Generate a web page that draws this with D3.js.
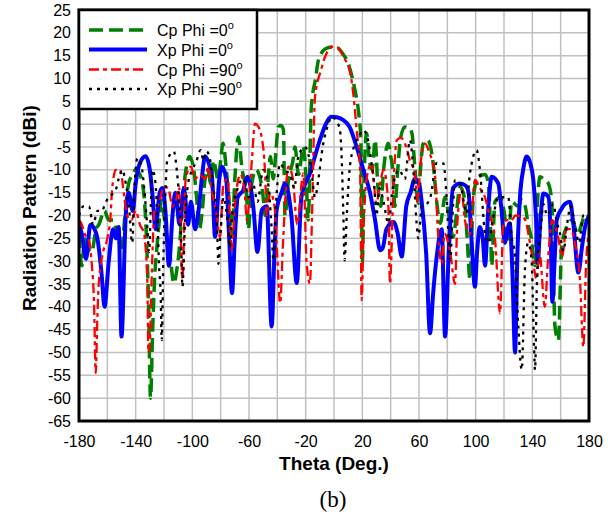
<!DOCTYPE html>
<meta charset="utf-8">
<head>
    <title>Radiation Pattern</title>
    <script type="text/javascript" src="https://cdn.jsdelivr.net/npm/d3@7"></script>
    <style>
        body { margin: 0; background: white; }
        text { font-family: "Liberation Sans", Arial, sans-serif; }
    </style>
</head>
<body>
<script>
    // data: [theta (deg), gain (dBi)]
    const cpPhi0 = [[-180,-24],[-178,-31],[-176,-25],[-174,-27],[-171,-28],[-168,-23],[-166,-22],[-162,-19],[-159,-21],[-156,-21],[-153,-24],[-150,-27],[-147,-18],[-145,-13],[-142,-11],[-140,-10],[-137,-11],[-134,-16],[-132.5,-24],[-131,-38],[-129.5,-60],[-128,-45],[-126.5,-33],[-125,-27],[-123,-20],[-122,-16.6],[-120,-20],[-119,-22.5],[-116,-28],[-113,-34.8],[-111,-32],[-109.4,-28],[-106,-13.7],[-104,-9],[-102,-7.1],[-99,-10],[-97,-16],[-95,-23],[-93,-19],[-91,-12],[-89,-10],[-87,-13],[-85,-8],[-82,-12],[-80,-8],[-78.4,-4.2],[-76,-10],[-74,-17],[-72,-24.7],[-70,-12],[-67.5,-2.8],[-65,-9.6],[-61.6,-16],[-60.5,-23],[-58,-13],[-55,-10],[-52,-12],[-50,-16],[-48.7,-20],[-46,-10],[-45,-7.1],[-42.8,-12],[-41,-6],[-39.3,-0.6],[-37.5,-0.3],[-35.7,-1.2],[-34.6,-20],[-32,-12],[-29,-8],[-27.6,-5],[-25,-11],[-21.7,-5],[-19.5,-13],[-18.2,-21],[-16,3.8],[-13,10],[-11,14],[-6,16.5],[-1.7,16.9],[2,16.8],[6,15.5],[10,13.3],[14.8,7.4],[17.2,3],[19,-4],[20,-30.5],[21,-15],[23,-2],[25,-8],[27,-10],[29,-3.5],[31,-13.7],[33,-18],[35,-10],[38.3,-4.2],[40,-7],[41.5,-10],[43,-18],[45,-10],[47,-3],[50,-0.6],[53,-0.8],[55,-2],[57,-9],[59.5,-17.3],[61,-10],[63,-4.2],[66,-3.5],[70,-8.6],[72.5,-17],[75,-21.7],[78.4,-16],[80.5,-19],[84.2,-24.7],[85.4,-22.5],[89,-13.7],[92,-16],[94,-25],[96,-34],[98.3,-16],[102,-11.5],[106.6,-11],[109,-13],[110.5,-23],[111.3,-31],[113.6,-17],[117,-16],[120,-19],[123,-26],[125.4,-17],[130,-18],[132.5,-16.6],[135,-18],[137,-22],[139.5,-25.3],[141.9,-31],[143.5,-18],[145.4,-11.5],[148,-12],[151.3,-13],[153.7,-17],[156,-44.3],[158.4,-47.3],[160.7,-26.8],[164.2,-22.5],[168,-21],[172,-24],[177,-20.3],[180,-21]]

    const xpPhi0 = [[-180,-22],[-178,-24],[-175,-29.5],[-172,-22],[-169,-23],[-167,-25],[-164,-33],[-162,-40],[-159,-30],[-156,-23],[-154,-25],[-152,-22.5],[-150,-46.5],[-147,-20],[-145,-15],[-142,-19],[-140,-13],[-137,-8.5],[-133,-7],[-130,-10],[-128,-16],[-126,-23],[-123,-15],[-121,-14],[-119,-19],[-116.5,-31],[-114,-20],[-112,-15],[-109,-22],[-106,-14],[-103,-22],[-101,-17],[-98,-23],[-96,-20],[-93,-11],[-91,-7],[-88,-9],[-86,-12],[-84,-24.7],[-81,-12],[-79,-9.3],[-76,-12.3],[-74,-25],[-72,-37],[-70,-25],[-68,-16],[-64,-14.4],[-61,-11.5],[-57,-18],[-54,-28],[-51,-18.8],[-47.5,-18],[-44,-44.3],[-42,-28],[-40.5,-18.8],[-37,-15],[-34.6,-13],[-30,-20.3],[-26.3,-34.8],[-23,-16],[-17,-10.8],[-10,-3.5],[-5,0.5],[-2,1.6],[2,1.5],[6,1],[11,-0.6],[16,-5],[20.7,-10],[25.4,-15],[29,-21],[32.5,-27.6],[34.5,-27],[37,-23],[42,-21.4],[45,-24],[47.8,-29],[51,-18],[54,-15],[57,-12],[60,-13],[62,-17.3],[65,-28],[67.8,-45.8],[70,-37],[72.5,-29],[76,-23],[78.4,-46.5],[81,-28],[84,-14],[89,-13],[93,-13.5],[95,-15],[97,-25],[99.5,-35.6],[101,-28],[103,-22.5],[105,-25],[106.6,-31],[109,-18],[111.3,-11.5],[116,-13],[118,-18],[120.7,-26],[122,-24],[124,-21.7],[126,-33],[127.8,-50],[129.5,-28],[131.3,-15.9],[133.5,-10],[136,-7.1],[138.5,-8.5],[140.7,-12.2],[142.5,-20],[143.8,-30.5],[145.5,-22],[147.8,-15.2],[151.3,-15.9],[153,-25],[154.1,-38.9],[156,-28],[157.2,-21],[160.7,-18.5],[163,-17.5],[166.6,-17],[169,-22],[172.5,-32.5],[175,-27],[177.2,-22.5],[180,-20]]

    const cpPhi90 = [[-180,-21],[-178,-22],[-176,-24],[-173,-25.4],[-171,-30.6],[-169.4,-39],[-168.2,-54.5],[-167,-42],[-166,-34.6],[-163,-28],[-160,-25],[-157.6,-19.5],[-156.7,-14.5],[-154,-10],[-151,-10],[-148,-16],[-146,-20],[-143,-21],[-140,-19],[-137,-22],[-134,-24],[-133,-27],[-131.8,-34],[-131,-50],[-130,-48],[-129,-37],[-128,-27],[-127,-19.5],[-123.5,-17.3],[-120,-13.7],[-117,-14],[-114,-18],[-111,-16],[-109.4,-13.7],[-107,-34],[-104.7,-12],[-101,-9.3],[-98,-12],[-95,-11],[-91,-12],[-88.7,-9.3],[-86,-15],[-82.8,-20],[-80.5,-24.7],[-78,-13],[-75,-12],[-72.2,-27.6],[-70,-18],[-66,-11],[-63,-15],[-61.6,-21],[-58,-8],[-55.8,0.1],[-53.5,-0.5],[-50,-5],[-48.5,-11.8],[-47.6,-20],[-45,-15],[-42,-18],[-40.5,-26],[-38,-39.2],[-36,-26],[-32.2,-9.3],[-29,-12],[-26,-22],[-21.7,-10.8],[-19.3,-30.5],[-17,-34.9],[-15.5,-20],[-13.4,6],[-9,12],[-6.4,14.7],[-0.5,17],[3,16.7],[8,14],[10,13],[13.6,6.7],[16,-1.3],[18.4,-10],[19.5,-38.5],[21,-22],[23,-12],[26.5,-8.6],[30,-17.4],[32,-14],[35,-10],[38.3,-17.4],[39.5,-34.9],[42,-13.3],[44.3,-3.5],[47,-3],[51,-5],[53.6,-8],[57,-10.7],[59,-17],[61,-9],[64.2,-4.2],[67,-6],[71.3,-11.3],[73.6,-24.7],[76,-30.5],[78,-24],[82,-28],[85.4,-35],[87,-22],[90,-14.4],[92.4,-21],[96,-24],[99.5,-12.2],[103,-14],[106.6,-16],[109,-19],[113.6,-25],[117.2,-41.4],[119.5,-22],[122,-21],[125.4,-21],[128,-20],[132.5,-20.3],[135,-21],[138.3,-26],[140.5,-30],[143,-34],[145,-28],[148.8,-40],[151,-30],[154,-21],[158.4,-25],[161,-29],[164,-23],[167,-23],[170,-26],[173.6,-34],[176,-48.8],[178,-30],[180,-24]]

    const xpPhi90 = [[-180,-20],[-177,-18],[-173,-18],[-170,-22],[-167,-19],[-164,-19],[-161,-17],[-158.8,-16],[-154,-14.3],[-152,-12],[-149.4,-10],[-147,-13],[-145,-17],[-142.4,-26],[-141,-15],[-138.8,-7.5],[-136,-9],[-134,-14],[-131.8,-22.5],[-130.5,-28],[-129.3,-18],[-128.2,-10],[-126,-13],[-124.5,-22],[-123.5,-31],[-122.3,-37.8],[-121.6,-47.3],[-120.5,-30],[-119,-15],[-117.7,-7.9],[-113,-6],[-111,-10],[-109.4,-16],[-108,-25],[-107,-35.6],[-105,-20],[-103,-13],[-100,-10],[-97,-8],[-94.2,-5.7],[-92,-8],[-90,-6],[-88,-7],[-85,-14.4],[-82.8,-20],[-81.6,-30.6],[-80,-23],[-78,-16],[-76,-19],[-74.6,-23],[-73.5,-27],[-72,-20],[-68,-14],[-64,-12],[-60,-16],[-57,-13.3],[-54,-17],[-50,-10],[-47,-12],[-44,-23],[-42.8,-29.8],[-41,-18],[-38,-8.6],[-35,-10],[-31,-11],[-28,-14],[-25.2,-7.1],[-20.4,-5],[-16,-10],[-13.4,-16],[-11,-12],[-8,-5],[-4,0],[-1.7,1.6],[2,0.5],[4.2,-1.3],[5.5,-8],[6.6,-20],[7.5,-29.8],[9,-20],[11,-10],[14,-5],[17,-3],[20.7,-1.3],[24,-3.5],[26.5,-8.6],[28.5,-14],[30,-20],[32,-14],[35,-17],[38.3,-21.7],[42,-13],[46,-10],[50,-12],[53.6,-3.5],[56,-10],[58.3,-21.7],[59.5,-25],[62,-18],[65.4,-17.5],[68,-16],[72.5,-8.5],[77.2,-8.6],[79.5,-16],[82,-29.8],[84,-18],[85.4,-12.3],[89,-13],[93.6,-19.5],[95.5,-12],[97.2,-8.6],[100.7,-5.7],[103,-10],[106.6,-24],[109,-26],[112,-21],[116,-16],[120,-16],[123,-16],[125.4,-24.7],[127.5,-28],[130,-43.7],[132.5,-53.8],[134.8,-31.7],[137,-26],[139.5,-30],[141.2,-48.8],[141.9,-53.8],[143.2,-35],[144.3,-27],[145.4,-25],[147.8,-17.5],[150.5,-20],[154.8,-17.5],[157,-21],[159.5,-24],[161.9,-27.8],[164.5,-22],[167,-18],[170,-22],[173,-26],[176,-20],[180,-21]]

    const seriesNames = ["Cp Phi =0", "Xp Phi =0", "Cp Phi =90", "Xp Phi =90"]
    const xTicks = d3.range(-180, 181, 40)
    const yTicks = d3.range(-65, 26, 5)

    // dimensions
    const w = 611, h = 516
    const margin = {top: 10, right: 22, bottom: 95, left: 79}

    const svg = d3.select("body").append("svg")
        .attr("width", w)
        .attr("height", h)

    const x = d3.scaleLinear().domain([-180, 180]).range([margin.left, w - margin.right])
    const y = d3.scaleLinear().domain([-65, 25]).range([h - margin.bottom, margin.top])

    // grid
    const grid = svg.append("g").attr("id", "grid")
    grid.selectAll("line.v")
        .data(d3.range(-160, 180, 20))
        .enter().append("line")
        .attr("class", "v")
        .attr("x1", d => x(d)).attr("x2", d => x(d))
        .attr("y1", y(25)).attr("y2", y(-65))
        .attr("stroke", "#c0c0c0").attr("stroke-width", 1.5)
    grid.selectAll("line.h")
        .data(d3.range(-60, 25, 5))
        .enter().append("line")
        .attr("class", "h")
        .attr("x1", x(-180)).attr("x2", x(180))
        .attr("y1", d => y(d)).attr("y2", d => y(d))
        .attr("stroke", "#c0c0c0").attr("stroke-width", 1.5)

    // axes (labels only, frame drawn below); plain hyphen for negatives
    const fmt = d => String(d)
    const xAxis = svg.append("g")
        .attr("transform", "translate(0," + y(-65) + ")")
        .call(d3.axisBottom(x).tickValues(xTicks).tickFormat(fmt).tickSize(0).tickPadding(15))
    xAxis.select(".domain").remove()
    xAxis.selectAll("text").attr("font-size", 16).attr("fill", "#000")
        .attr("font-family", "Liberation Sans, Arial, sans-serif")

    const yAxis = svg.append("g")
        .attr("transform", "translate(" + x(-180) + ",0)")
        .call(d3.axisLeft(y).tickValues(yTicks).tickFormat(fmt).tickSize(0).tickPadding(8))
    yAxis.select(".domain").remove()
    yAxis.selectAll("text").attr("font-size", 16).attr("fill", "#000")
        .attr("font-family", "Liberation Sans, Arial, sans-serif")

    // series
    const styles = [
        {color: "#008000", width: 3.5, dash: "14,6"},
        {color: "#0000ff", width: 4, dash: null},
        {color: "#ff0000", width: 2.3, dash: "10,4,4,4"},
        {color: "#000000", width: 2.3, dash: "3,5"}
    ]
    const allSeries = [cpPhi0, xpPhi0, cpPhi90, xpPhi90]

    svg.append("clipPath").attr("id", "plotClip")
        .append("rect")
        .attr("x", x(-180)).attr("y", y(25))
        .attr("width", x(180) - x(-180)).attr("height", y(-65) - y(25))

    const line = d3.line()
        .x(d => x(d[0]))
        .y(d => y(d[1]))
        .curve(d3.curveMonotoneX)

    const lines = svg.append("g").attr("clip-path", "url(#plotClip)")
    allSeries.forEach(function(s, i){
        lines.append("path")
            .datum(s)
            .attr("d", line)
            .attr("fill", "none")
            .attr("stroke", styles[i].color)
            .attr("stroke-width", styles[i].width)
            .attr("stroke-dasharray", styles[i].dash)
            .attr("stroke-linejoin", "round")
    })

    // frame
    svg.append("rect")
        .attr("x", x(-180)).attr("y", y(25))
        .attr("width", x(180) - x(-180)).attr("height", y(-65) - y(25))
        .attr("fill", "none").attr("stroke", "#000").attr("stroke-width", 3)

    // legend
    const legend = svg.append("g").attr("id", "legend")
    legend.append("rect")
        .attr("x", x(-180)).attr("y", y(25))
        .attr("width", 178).attr("height", 99)
        .attr("fill", "white").attr("stroke", "#000").attr("stroke-width", 2.5)

    const rowY = [30, 49.5, 69.5, 89]
    seriesNames.forEach(function(name, i){
        legend.append("line")
            .attr("x1", 89).attr("x2", 147)
            .attr("y1", rowY[i]).attr("y2", rowY[i])
            .attr("stroke", styles[i].color)
            .attr("stroke-width", styles[i].width)
            .attr("stroke-dasharray", styles[i].dash)
        const t = legend.append("text")
            .attr("x", 157).attr("y", rowY[i] + 6)
            .attr("font-size", 16)
            .text(name)
        t.append("tspan").attr("dy", -7).attr("font-size", 11).text("o")
    })

    // titles
    svg.append("text")
        .attr("x", (x(-180) + x(180)) / 2).attr("y", 470)
        .attr("text-anchor", "middle")
        .attr("font-size", 19).attr("font-weight", "bold")
        .text("Theta (Deg.)")

    svg.append("text")
        .attr("transform", "translate(36,208) rotate(-90)")
        .attr("text-anchor", "middle")
        .attr("font-size", 19).attr("font-weight", "bold")
        .text("Radiation Pattern (dBi)")

    svg.append("text")
        .attr("x", 333).attr("y", 507)
        .attr("text-anchor", "middle")
        .attr("font-size", 23)
        .style("font-family", "Liberation Serif, Times New Roman, serif")
        .text("(b)")
</script>
</body>
</html>
